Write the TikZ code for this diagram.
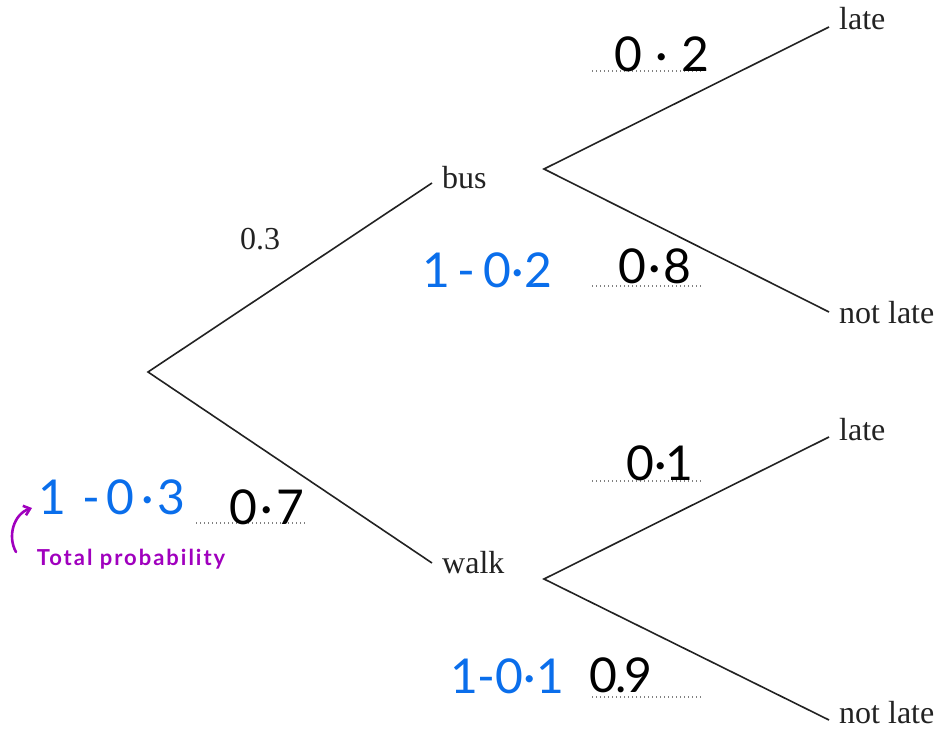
\documentclass[tikz,border=0pt]{standalone}
\usepackage{fontspec}
\setmainfont{Liberation Serif}
\newfontfamily\hand{Lato}
\newfontfamily\handsp[LetterSpace=9]{Lato}
\usetikzlibrary{arrows.meta}
\definecolor{inkblue}{RGB}{10,110,235}
\definecolor{inkpurple}{RGB}{160,0,190}
\definecolor{linegray}{RGB}{34,34,34}
\tikzset{
  branch/.style={draw=linegray, line width=1.6pt},
  lbl/.style={font=\fontsize{32}{36}\selectfont, text=linegray, inner sep=0pt, anchor=base west},
  hw/.style={font=\hand\fontsize{48}{52}\selectfont, inner sep=0pt, text=black},
  hwb/.style={hw, text=inkblue},
  dotline/.style={draw=gray, line width=1.3pt, dash pattern=on 1.3pt off 2.7pt},
}
\begin{document}
\begin{tikzpicture}[x=1pt,y=-1pt]
\useasboundingbox (0,0) rectangle (934,738);
% branch points
\coordinate (root) at (148,372);
\coordinate (busin) at (432,183);
\coordinate (walkin) at (432,563);
\coordinate (busout) at (544,169);
\coordinate (walkout) at (544,579);
\coordinate (bl) at (829,27);
\coordinate (bn) at (829,312);
\coordinate (wl) at (829,437);
\coordinate (wn) at (829,720);
% labels
\node[lbl] (bus) at (442,189) {bus};
\node[lbl] (walk) at (442,573) {walk};
\node[lbl] (late1) at (839,30) {late};
\node[lbl] (notlate1) at (839,323) {not late};
\node[lbl] (late2) at (839,440) {late};
\node[lbl] (notlate2) at (839,723) {not late};
\node[lbl] (p03) at (240,249) {0.3};
% branches
\draw[branch] (busin) -- (root) -- (walkin);
\draw[branch] (bl) -- (busout) -- (bn);
\draw[branch] (wl) -- (walkout) -- (wn);
% dotted answer lines
\coordinate (d1a) at (592,71);  \coordinate (d1b) at (701,71);
\coordinate (d2a) at (592,286); \coordinate (d2b) at (701,286);
\coordinate (d3a) at (196,523); \coordinate (d3b) at (305,523);
\coordinate (d4a) at (592,481); \coordinate (d4b) at (701,481);
\coordinate (d5a) at (592,697); \coordinate (d5b) at (701,697);
\draw[dotline] (d1a) -- (d1b);
\draw[dotline] (d2a) -- (d2b);
\draw[dotline] (d3a) -- (d3b);
\draw[dotline] (d4a) -- (d4b);
\draw[dotline] (d5a) -- (d5b);
% handwritten answers
\node[hw] (a02) at (662,54) {0\kern13pt·\kern13pt2};
\node[hw] (a08) at (655,266) {0\kern2pt·\kern2pt8};
\node[hw] (a07) at (267,507) {0\kern3pt·\kern3pt7};
\node[hw] (a01) at (660,463) {0\kern0pt·\kern-1pt1};
\node[hw] (a09) at (621,675) {0\kern-2pt.\kern-2pt9};
\node[hwb] (c02) at (487,270) {1\,-\,0·2};
\node[hwb] (c03) at (112,497) {1\kern16pt-\kern6pt0\kern7pt·\kern4pt3};
\node[hwb] (c01) at (507,676) {1-0·1};
% note
\node[font=\handsp\bfseries\fontsize{22}{24}\selectfont, text=inkpurple, inner sep=0pt] (note) at (131,559) {Total probability};
\coordinate (nstart) at (16,552);
\coordinate (nend) at (32,508);
\draw[inkpurple, line width=2.6pt, line cap=round, -{Straight Barb[length=6pt,width=10pt]}]
  (nstart) .. controls (7,536) and (14,514) .. (nend);
\end{tikzpicture}
\end{document}
